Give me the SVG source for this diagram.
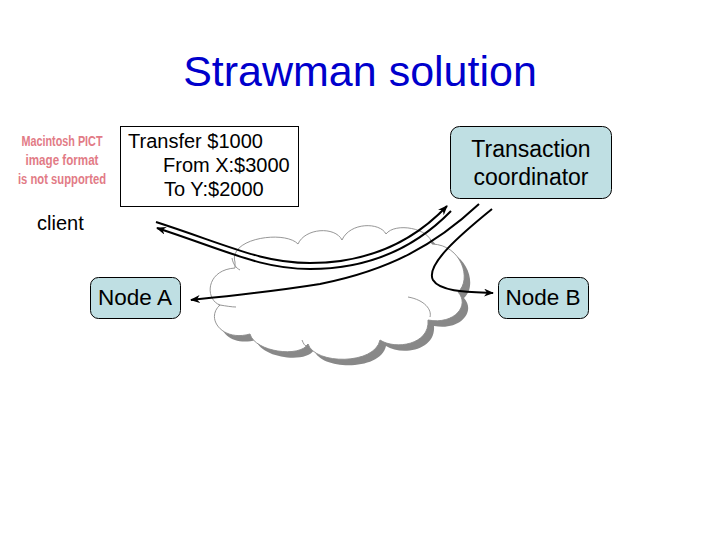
<svg xmlns="http://www.w3.org/2000/svg" width="720" height="540" viewBox="0 0 720 540">
<style>
.t{font-family:"Liberation Sans",Arial,sans-serif;fill:#000}
.node{fill:#bfdfe3;stroke:#000;stroke-width:1}
.conn{fill:none;stroke:#000;stroke-width:2}
.pict{font-family:"Liberation Sans",Arial,sans-serif;font-weight:bold;font-size:14.5px;fill:#e27b86;text-anchor:middle}
</style>
<defs>
<marker id="ah" viewBox="0 0 10 8" refX="9" refY="4" markerWidth="5" markerHeight="4" orient="auto" markerUnits="strokeWidth">
<path d="M0,0 L10,4 L0,8 L3,4 z" fill="#000"/>
</marker>
<path id="cloudp" d="M235,262 C228,238 285,230 298,244 C305,228 335,226 342,240 C350,222 380,222 386,234 C395,222 430,228 432,244 C462,245 472,280 458,292 C470,305 455,325 428,320 C430,345 395,350 380,340 C375,365 315,365 308,344 C300,358 255,352 250,334 C222,342 205,318 220,305 C205,300 205,270 235,268 Z"/>
</defs>
<rect width="720" height="540" fill="#fff"/>
<text x="360" y="86" font-family="'Liberation Sans',Arial,sans-serif" font-size="43" fill="#0000cc" text-anchor="middle">Strawman solution</text>

<g id="pict">
<text class="pict" x="62" y="146" textLength="81" lengthAdjust="spacingAndGlyphs">Macintosh PICT</text>
<text class="pict" x="62" y="165" textLength="73" lengthAdjust="spacingAndGlyphs">image format</text>
<text class="pict" x="62" y="184" textLength="88" lengthAdjust="spacingAndGlyphs">is not supported</text>
</g>

<g id="client">
<text class="t" x="37" y="230" font-size="20">client</text>
</g>

<g id="cloud">
<use href="#cloudp" transform="translate(6,6)" fill="#888"/>
<use href="#cloudp" fill="#fff" stroke="#8a8a8a" stroke-width="0.9"/>
<path d="M408,297 C425,300 432,310 430,317" fill="none" stroke="#8a8a8a" stroke-width="0.9"/>
<path d="M232,258 C233,264 236,268 240,270" fill="none" stroke="#8a8a8a" stroke-width="0.9"/>
<path d="M220,305 C226,306 232,307 236,307" fill="none" stroke="#8a8a8a" stroke-width="0.9"/>
<path d="M302,340 C304,345 306,348 308,344" fill="none" stroke="#8a8a8a" stroke-width="0.9"/>
</g>

<g id="transfer">
<rect x="120.5" y="126.5" width="178" height="80" fill="#fff" stroke="#000" stroke-width="1"/>
<text class="t" x="128" y="148" font-size="20">Transfer $1000</text>
<text class="t" x="163" y="172" font-size="20">From X:$3000</text>
<text class="t" x="164" y="196" font-size="20">To Y:$2000</text>
</g>

<g id="coordinator">
<rect class="node" x="450.5" y="126.5" width="161" height="72" rx="9"/>
<text class="t" x="531" y="157" font-size="23" text-anchor="middle">Transaction</text>
<text class="t" x="531" y="185" font-size="23" text-anchor="middle">coordinator</text>
</g>

<g id="nodeA">
<rect class="node" x="90.5" y="277.5" width="90" height="41" rx="8"/>
<text class="t" x="135" y="305" font-size="22.5" text-anchor="middle">Node A</text>
</g>

<g id="nodeB">
<rect class="node" x="498.5" y="277.5" width="90" height="41" rx="8"/>
<text class="t" x="543" y="305" font-size="22.5" text-anchor="middle">Node B</text>
</g>

<g id="connectors">
<path class="conn" d="M156,222 C230,246 262,263 310,263 C365,263 410,245 447,206" marker-end="url(#ah)"/>
<path class="conn" d="M451,211 C415,248 370,269 310,269 C262,269 230,252 157,228" marker-end="url(#ah)"/>
<path class="conn" d="M479,204 C435,245 390,270 320,284 C270,292 230,296 191,300" marker-end="url(#ah)"/>
<path class="conn" d="M492,209 C460,235 425,265 433,280 C440,292 470,292 493,293" marker-end="url(#ah)"/>
</g>
</svg>
